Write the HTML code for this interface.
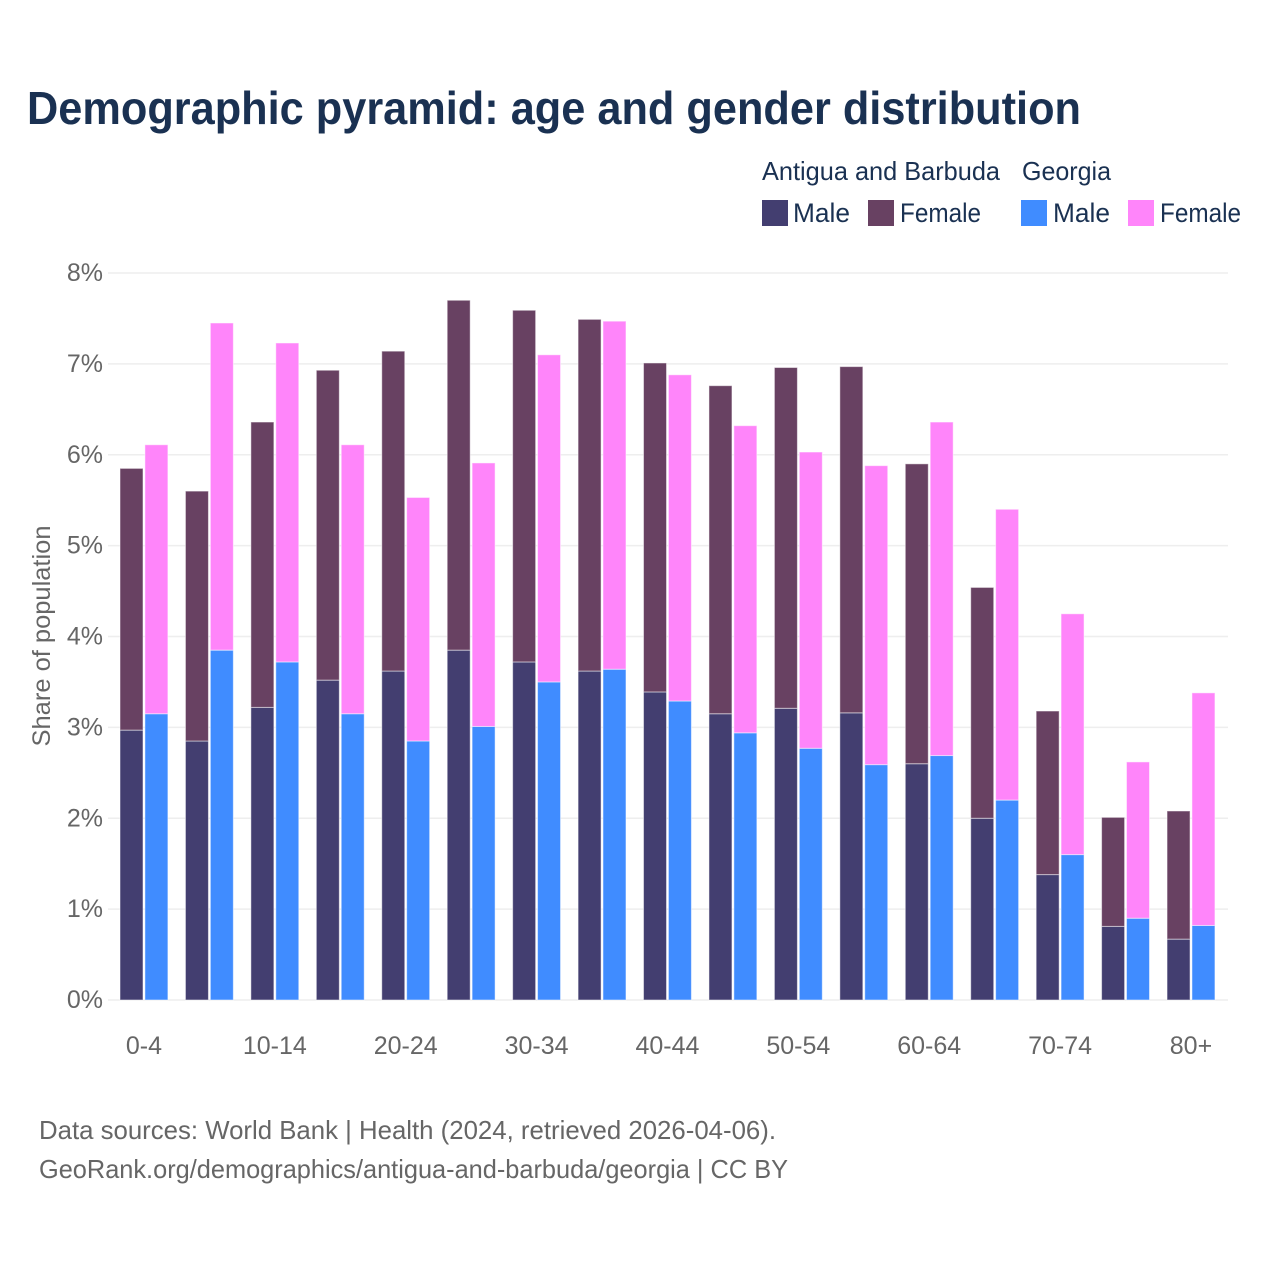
<!DOCTYPE html>
<html lang="en">
<head>
<meta charset="utf-8">
<title>Demographic pyramid</title>
<style>
html,body{margin:0;padding:0;background:#fff;}
svg{display:block;}
text{font-family:"Liberation Sans",sans-serif;}
</style>
</head>
<body>
<svg id="chart" xmlns="http://www.w3.org/2000/svg" width="1280" height="1280" viewBox="0 0 1280 1280">
  <rect x="0" y="0" width="1280" height="1280" fill="#ffffff"/>
  <text x="27" y="124" font-size="46" font-weight="700" fill="#1a3152" textLength="1054" lengthAdjust="spacingAndGlyphs">Demographic pyramid: age and gender distribution</text>

  <g>
    <text x="762" y="180" font-size="26" fill="#1a3152" textLength="238" lengthAdjust="spacingAndGlyphs">Antigua and Barbuda</text>
    <text x="1022" y="180" font-size="26" fill="#1a3152" textLength="89" lengthAdjust="spacingAndGlyphs">Georgia</text>
    <rect x="762" y="200" width="26" height="26" fill="#433e70"/>
    <text x="793" y="222" font-size="27" fill="#1a3152" textLength="57" lengthAdjust="spacingAndGlyphs">Male</text>
    <rect x="868" y="200" width="26" height="26" fill="#684162"/>
    <text x="900" y="222" font-size="27" fill="#1a3152" textLength="81" lengthAdjust="spacingAndGlyphs">Female</text>
    <rect x="1021" y="200" width="26" height="26" fill="#408cff"/>
    <text x="1053" y="222" font-size="27" fill="#1a3152" textLength="57" lengthAdjust="spacingAndGlyphs">Male</text>
    <rect x="1128" y="200" width="26" height="26" fill="#ff85fa"/>
    <text x="1160" y="222" font-size="27" fill="#1a3152" textLength="81" lengthAdjust="spacingAndGlyphs">Female</text>
  </g>

  <g id="grid"></g>
  <g id="yticks"></g>
  <g id="bars"></g>
  <g id="xticks"></g>

  <text x="0" y="0" transform="translate(50,636) rotate(-90)" text-anchor="middle" font-size="25" fill="#666666" textLength="221" lengthAdjust="spacingAndGlyphs">Share of population</text>

  <text x="39" y="1139" font-size="26" fill="#666666" textLength="737" lengthAdjust="spacingAndGlyphs">Data sources: World Bank | Health (2024, retrieved 2026-04-06).</text>
  <text x="39" y="1178" font-size="26" fill="#666666" textLength="749" lengthAdjust="spacingAndGlyphs">GeoRank.org/demographics/antigua-and-barbuda/georgia | CC BY</text>
</svg>
<script>
const ageGroups = ["0-4","5-9","10-14","15-19","20-24","25-29","30-34","35-39","40-44","45-49","50-54","55-59","60-64","65-69","70-74","75-79","80+"];
const xTickLabels = ["0-4","10-14","20-24","30-34","40-44","50-54","60-64","70-74","80+"];
const yTickValues = [0,1,2,3,4,5,6,7,8];
const antiguaMale = [2.97,2.85,3.22,3.52,3.62,3.85,3.72,3.62,3.39,3.15,3.21,3.16,2.60,2.00,1.38,0.81,0.67];
const antiguaFemale = [2.88,2.75,3.14,3.41,3.52,3.85,3.87,3.87,3.62,3.61,3.75,3.81,3.30,2.54,1.80,1.20,1.41];
const georgiaMale = [3.15,3.85,3.72,3.15,2.85,3.01,3.50,3.64,3.29,2.94,2.77,2.59,2.69,2.20,1.60,0.90,0.82];
const georgiaFemale = [2.96,3.60,3.51,2.96,2.68,2.90,3.60,3.83,3.59,3.38,3.26,3.29,3.67,3.20,2.65,1.72,2.56];

const NS = "http://www.w3.org/2000/svg";
function yScale(v){ return 1000 - v * 90.875; }
function groupLeft(i){ return 120 + i * 65.44; }
const barWidth = 23;
const barOffset = 24.9;

const grid = document.getElementById("grid");
const yticks = document.getElementById("yticks");
yTickValues.forEach(function(v){
  const line = document.createElementNS(NS,"line");
  line.setAttribute("x1",108);
  line.setAttribute("x2",1228);
  line.setAttribute("y1",yScale(v));
  line.setAttribute("y2",yScale(v));
  line.setAttribute("stroke","#eeeeee");
  line.setAttribute("stroke-width","1.5");
  
  
  grid.appendChild(line);
  const t = document.createElementNS(NS,"text");
  t.setAttribute("x",103);
  t.setAttribute("y",yScale(v)+8);
  t.setAttribute("text-anchor","end");
  t.setAttribute("font-size","25");
  t.setAttribute("fill","#666666");
  
  
  t.textContent = v + "%";
  yticks.appendChild(t);
});

const barsGroup = document.getElementById("bars");
function addBar(x, base, value, color, name){
  const r = document.createElementNS(NS,"rect");
  const top = yScale(base + value);
  r.setAttribute("x",x);
  r.setAttribute("y",top);
  r.setAttribute("width",barWidth);
  r.setAttribute("height",yScale(base) - top);
  r.setAttribute("fill",color);
  r.setAttribute("stroke","#ffffff");
  r.setAttribute("stroke-opacity","0.5");
  r.setAttribute("stroke-width","1");
  
  
  barsGroup.appendChild(r);
}
ageGroups.forEach(function(g,i){
  const x = groupLeft(i);
  addBar(x, 0, antiguaMale[i], "#433e70", "bar-antigua-male");
  addBar(x, antiguaMale[i], antiguaFemale[i], "#684162", "bar-antigua-female");
  addBar(x + barOffset, 0, georgiaMale[i], "#408cff", "bar-georgia-male");
  addBar(x + barOffset, georgiaMale[i], georgiaFemale[i], "#ff85fa", "bar-georgia-female");
});

const xticks = document.getElementById("xticks");
xTickLabels.forEach(function(label){
  const i = ageGroups.indexOf(label);
  const t = document.createElementNS(NS,"text");
  t.setAttribute("x",groupLeft(i) + (barOffset + barWidth)/2);
  t.setAttribute("y",1054);
  t.setAttribute("text-anchor","middle");
  t.setAttribute("font-size","25");
  t.setAttribute("fill","#666666");
  
  
  t.textContent = label;
  xticks.appendChild(t);
});
</script>
</body>
</html>
